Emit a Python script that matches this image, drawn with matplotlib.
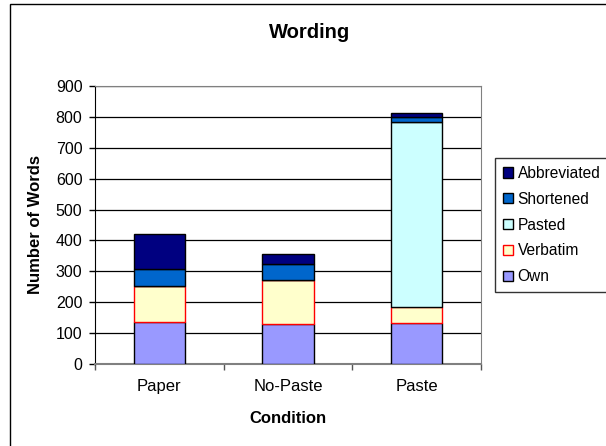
import matplotlib
matplotlib.use("Agg")
import matplotlib.pyplot as plt
import numpy as np
from matplotlib.patches import Rectangle

plt.rcParams["font.family"] = ["Liberation Sans", "DejaVu Sans"]

conditions = ["Paper", "No-Paste", "Paste"]
own = [137, 128, 132]
verbatim = [114, 144, 53]
pasted = [0, 0, 598]
shortened = [56, 53, 17]
abbreviated = [113, 30, 14]

series = [
    ("Own", own, "#9999FF", "black"),
    ("Verbatim", verbatim, "#FFFFCC", "#FF0000"),
    ("Pasted", pasted, "#CCFFFF", "black"),
    ("Shortened", shortened, "#0066CC", "black"),
    ("Abbreviated", abbreviated, "#000080", "black"),
]

W, H = 606, 446
fig = plt.figure(figsize=(W / 100, H / 100), dpi=100)
ax = fig.add_axes([95 / W, 1 - 364 / H, 386 / W, 278 / H])

# outer chart frame
fig.patches.append(Rectangle((10 / W, -0.01), 1.0, 1 - 4 / H + 0.01,
                             transform=fig.transFigure, fill=False,
                             edgecolor="black", linewidth=1.0))

x = np.arange(len(conditions))
bottom = np.zeros(len(conditions))
handles = []
for name, vals, face, edge in series:
    vals = np.array(vals, dtype=float)
    bars = ax.bar(x, vals, width=0.4, bottom=bottom, color=face,
                  edgecolor=edge, linewidth=1.0, label=name, zorder=3)
    handles.append(bars)
    bottom += vals

ax.set_xlim(-0.5, 2.5)
ax.set_ylim(0, 900)
ax.set_yticks(range(0, 901, 100))
ax.yaxis.grid(True, color="black", linewidth=0.9, zorder=0)
ax.set_axisbelow(True)

ax.set_xticks(x)
ax.set_xticklabels(conditions, fontsize=12)
ax.set_xticks([-0.5, 0.5, 1.5, 2.5], minor=True)
ax.tick_params(axis="x", which="major", length=0, pad=11)
ax.tick_params(axis="x", which="minor", length=4, width=1, color="#555555")
ax.tick_params(axis="y", length=4, width=1, labelsize=11.5, pad=5)

for side in ["top", "right", "bottom"]:
    ax.spines[side].set_color("#808080")
ax.spines["left"].set_color("black")
ax.spines["bottom"].set_linewidth(1.5)

fig.text(310 / W, 1 - 33 / H, "Wording", fontsize=14.5, fontweight="bold",
         ha="center", va="center")
ax.set_xlabel("Condition", fontsize=12, fontweight="bold", labelpad=12)
ax.set_ylabel("Number of Words", fontsize=12, fontweight="bold", labelpad=9)

leg = fig.legend(handles[::-1], [s[0] for s in series][::-1],
                 loc="upper left", bbox_to_anchor=(495 / W, 1 - 158 / H),
                 fontsize=11.2, frameon=True, fancybox=False,
                 handlelength=0.65, handleheight=0.65, handletextpad=0.3,
                 labelspacing=0.7, borderpad=0.5, borderaxespad=0)
leg.get_frame().set_edgecolor("black")
leg.get_frame().set_linewidth(1.0)

fig.savefig("out.png", dpi=100)
